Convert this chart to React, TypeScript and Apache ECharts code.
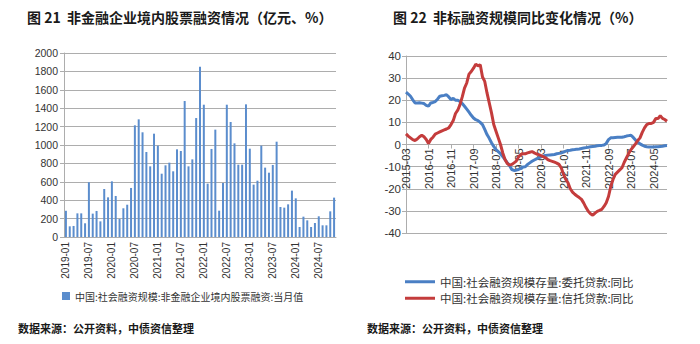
import React, { useEffect, useRef } from "react";
import * as echarts from "echarts";

function months(startY: number, startM: number, count: number): string[] {
  const out: string[] = [];
  let y = startY;
  let m = startM;
  for (let i = 0; i < count; i++) {
    out.push(`${y}-${m < 10 ? "0" + m : m}`);
    m++;
    if (m > 12) { m = 1; y++; }
  }
  return out;
}

const barCategories = months(2019, 1, 71);
const barValues = [
  285, 116, 120, 257, 257, 149, 595, 254, 283, 170,
  522, 431, 605, 446, 196, 312, 351, 533, 1214, 1279,
  1138, 924, 768, 1123, 993, 688, 779, 808, 714, 953,
  935, 1478, 768, 844, 1293, 1851, 1438, 580, 957, 1167,
  286, 587, 1438, 1250, 1018, 786, 786, 1442, 960, 569,
  612, 993, 754, 699, 783, 1036, 326, 319, 355, 504,
  420, 109, 221, 181, 109, 152, 225, 127, 127, 279, 428,
];

const lineCategories = months(2015, 3, 117);
const entrustedValues = [
  23.7, 22.8, 21.8, 20.2, 18.8, 18.8, 18.9, 18.7, 18.5, 17.7,
  17.3, 18.8, 19.0, 19.4, 20.5, 21.8, 22.0, 22.2, 22.5, 21.5,
  20.3, 20.9, 20.0, 20.0, 19.4, 18.5, 17.3, 16.0, 14.6, 13.2,
  12.0, 11.2, 10.8, 10.0, 9.0, 6.8, 4.5, 2.8, 0.8, -0.9,
  -2.3, -3.2, -4.2, -5.5, -6.8, -8.2, -9.5, -11.3, -11.7, -11.6,
  -11.3, -10.8, -10.2, -10.1, -9.0, -8.3, -7.6, -7.0, -6.5, -6.0,
  -5.6, -5.2, -5.0, -4.8, -4.7, -4.6, -4.5, -4.2, -4.0, -3.8,
  -3.4, -3.0, -2.7, -2.6, -2.4, -2.3, -2.1, -2.0, -1.8, -1.6,
  -1.4, -1.2, -1.0, -0.9, -0.8, -0.6, -0.5, -0.4, -0.2, 0.5,
  2.2, 3.0, 3.1, 3.2, 3.3, 3.3, 3.3, 3.5, 3.8, 4.0,
  4.2, 3.2, 2.0, 1.0, 0.3, -0.3, -0.8, -1.0, -1.1, -1.1,
  -1.1, -1.0, -1.0, -0.9, -0.8, -0.6, -0.5,
];
const trustValues = [
  4.8, 3.8, 3.0, 2.2, 1.8, 2.5, 3.5, 4.2, 3.5, 2.3,
  0.5, 2.3, 3.3, 4.7, 5.2, 5.7, 6.2, 6.6, 7.0, 7.5,
  9.0, 10.8, 14.0, 15.5, 18.0, 21.5, 25.5, 27.8, 31.8, 33.0,
  34.5, 36.3, 35.6, 36.0, 30.5, 28.5, 23.3, 18.8, 14.3, 9.0,
  6.0, 3.0, 0.0, -3.8, -6.8, -8.6, -9.3, -9.0, -8.3, -7.5,
  -5.6, -4.5, -4.2, -4.2, -3.8, -3.5, -3.2, -3.8, -4.3, -4.6,
  -5.0, -5.5, -6.0, -6.8, -7.3, -7.6, -8.0, -8.4, -9.0, -10.5,
  -13.5, -15.8, -17.3, -20.0, -21.5, -22.5, -23.3, -24.0, -24.8, -26.5,
  -28.5, -30.2, -31.3, -32.0, -31.0, -30.2, -29.8, -29.3, -28.0, -26.3,
  -23.5, -19.0, -15.8, -13.5, -12.5, -11.5, -10.5, -8.0, -6.0, -4.0,
  -2.3, -1.0, 0.3, 1.8, 3.0, 5.5, 7.5, 9.0, 9.5, 9.5,
  10.0, 11.7, 11.7, 13.0, 11.8, 11.3, 10.5,
];

const barName = "中国:社会融资规模:非金融企业境内股票融资:当月值";
const entrustedName = "中国:社会融资规模存量:委托贷款:同比";
const trustName = "中国:社会融资规模存量:信托贷款:同比";
const title1 = "图 21  非金融企业境内股票融资情况（亿元、%）";
const title2 = "图 22  非标融资规模同比变化情况（%）";
const sourceText = "数据来源：公开资料，中债资信整理";

const CJK = "'Noto Sans CJK SC', 'Noto Sans', sans-serif";
const NUM = "'Liberation Sans', Arial, sans-serif";
const GRID = "#ADADAD";
const TXT = "#333333";

const RIGHT_TOP = 56;
const RIGHT_H = 177;

export default function App() {
  const ref = useRef<HTMLDivElement>(null);
  useEffect(() => {
    document.body.style.margin = "0";
    if (!ref.current) return;
    const chart = echarts.init(ref.current, null, { renderer: "svg" });
    chart.setOption({
      animation: false,
      backgroundColor: "#ffffff",
      grid: [
        { left: 64, top: 53, width: 272, height: 184 },
        { left: 406, top: RIGHT_TOP, width: 261, height: RIGHT_H },
      ],
      legend: [
        {
          data: [barName],
          left: 62,
          top: 291,
          padding: 0,
          icon: "rect",
          itemWidth: 8,
          itemHeight: 8,
          itemGap: 4,
          textStyle: { fontSize: 10, color: TXT, fontFamily: CJK },
        },
        {
          data: [entrustedName, trustName],
          orient: "vertical",
          left: 405,
          top: 276,
          padding: 0,
          icon: "rect",
          itemWidth: 30,
          itemHeight: 3,
          itemGap: 5,
          textStyle: { fontSize: 11.5, color: TXT, fontFamily: CJK },
        },
      ],
      xAxis: [
        {
          type: "category",
          gridIndex: 0,
          data: barCategories,
          boundaryGap: true,
          axisLine: { lineStyle: { color: GRID } },
          axisTick: { interval: 5, alignWithLabel: true, length: 4, lineStyle: { color: GRID } },
          axisLabel: { interval: 5, rotate: 90, fontSize: 10, color: TXT, fontFamily: NUM, margin: 5 },
        },
        {
          type: "category",
          gridIndex: 1,
          data: lineCategories,
          boundaryGap: false,
          position: "bottom",
          offset: -RIGHT_H / 2,
          axisLine: { onZero: false, lineStyle: { color: GRID } },
          axisTick: { interval: 9, length: 4, lineStyle: { color: GRID } },
          axisLabel: { interval: 9, rotate: 90, fontSize: 11, color: TXT, fontFamily: NUM, margin: 4 },
        },
      ],
      yAxis: [
        {
          type: "value",
          gridIndex: 0,
          min: 0,
          max: 2000,
          interval: 200,
          axisLine: { show: true, lineStyle: { color: GRID } },
          axisTick: { show: true, length: 4, lineStyle: { color: GRID } },
          splitLine: { lineStyle: { color: GRID, width: 1 } },
          axisLabel: { fontSize: 10.5, color: TXT, fontFamily: NUM, margin: 6, formatter: (v: number) => String(v) },
        },
        {
          type: "value",
          gridIndex: 1,
          min: -40,
          max: 40,
          interval: 10,
          axisLine: { show: true, lineStyle: { color: GRID } },
          axisTick: { show: true, length: 4, lineStyle: { color: GRID } },
          splitLine: { lineStyle: { color: GRID, width: 1 } },
          axisLabel: { fontSize: 11.5, color: TXT, fontFamily: NUM, margin: 5, formatter: (v: number) => String(v) },
        },
      ],
      series: [
        {
          name: barName,
          type: "bar",
          xAxisIndex: 0,
          yAxisIndex: 0,
          data: barValues,
          barWidth: 2,
          itemStyle: { color: "#5B8DCD" },
        },
        {
          name: entrustedName,
          type: "line",
          xAxisIndex: 1,
          yAxisIndex: 1,
          data: entrustedValues,
          showSymbol: false,
          symbol: "none",
          lineStyle: { color: "#4A7FC4", width: 3 },
          itemStyle: { color: "#4A7FC4" },
        },
        {
          name: trustName,
          type: "line",
          xAxisIndex: 1,
          yAxisIndex: 1,
          data: trustValues,
          showSymbol: false,
          symbol: "none",
          lineStyle: { color: "#C43C3C", width: 3 },
          itemStyle: { color: "#C43C3C" },
        },
      ],
      graphic: [
        {
          type: "text",
          left: 27,
          top: 10,
          style: { text: title1, fontSize: 14, fontWeight: "bold", fill: "#1a1a1a", fontFamily: CJK },
        },
        {
          type: "text",
          left: 393,
          top: 10,
          style: { text: title2, fontSize: 14, fontWeight: "bold", fill: "#1a1a1a", fontFamily: CJK },
        },
        {
          type: "text",
          left: 18,
          top: 322,
          style: { text: sourceText, fontSize: 11, fontWeight: "bold", fill: "#1a1a1a", fontFamily: CJK },
        },
        {
          type: "text",
          left: 367,
          top: 322,
          style: { text: sourceText, fontSize: 11, fontWeight: "bold", fill: "#1a1a1a", fontFamily: CJK },
        },
      ],
    });
    return () => chart.dispose();
  }, []);
  return <div ref={ref} style={{ width: 700, height: 344 }} />;
}
